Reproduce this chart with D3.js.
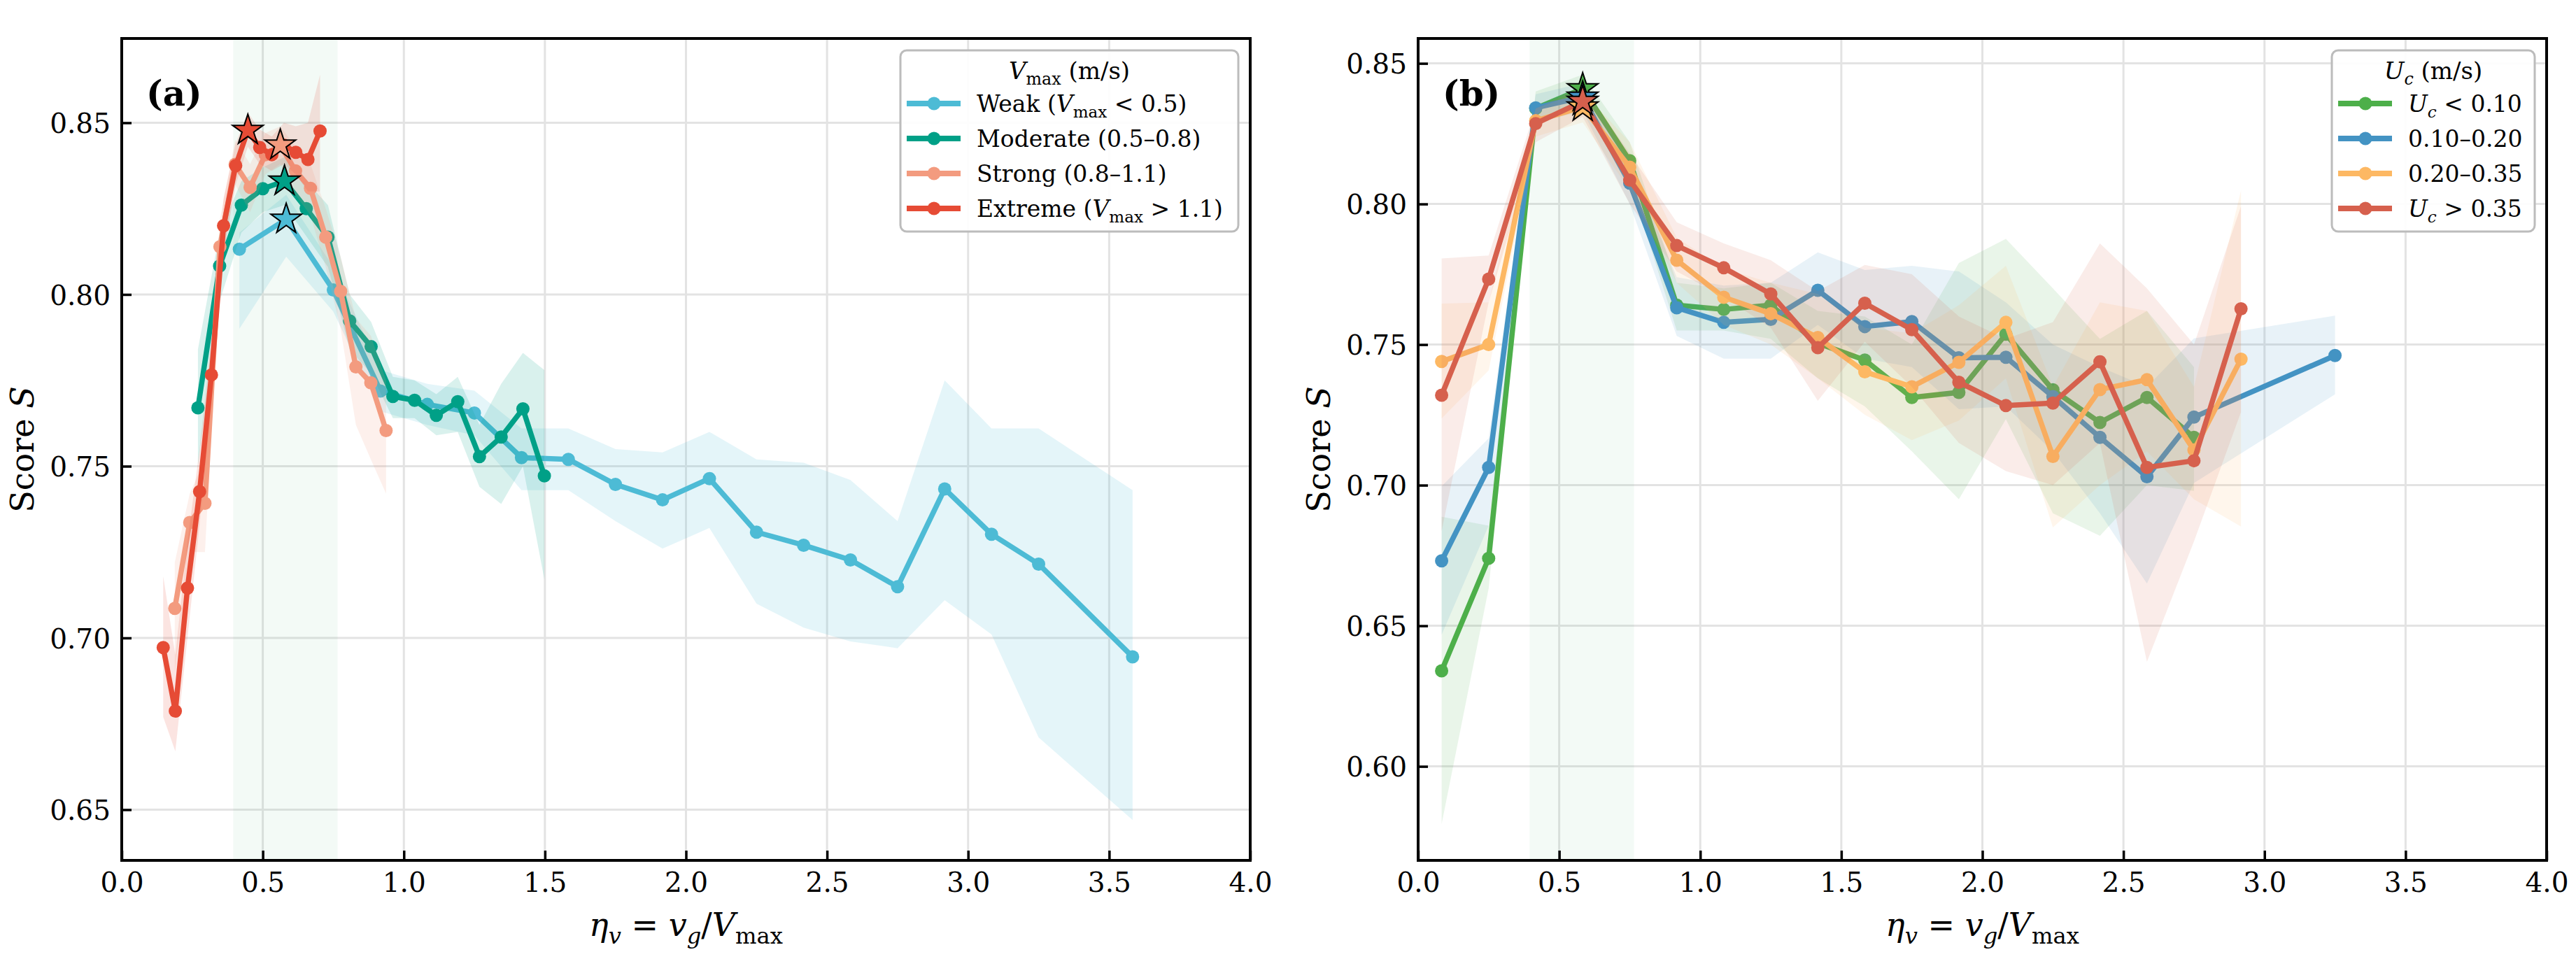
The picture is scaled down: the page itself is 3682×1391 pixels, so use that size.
<!DOCTYPE html>
<html><head><meta charset="utf-8">
<script src="https://cdn.jsdelivr.net/npm/d3@7"></script>
<style>body{margin:0;background:#fff}svg{display:block}text{font-family:"DejaVu Serif",serif;white-space:pre}</style>
</head><body><svg id="chart" width="3682" height="1391"></svg>
<script>
// ---------- tick labels ----------
const xTicks = [0, 0.5, 1.0, 1.5, 2.0, 2.5, 3.0, 3.5, 4.0];
const aYTicks = [0.65, 0.70, 0.75, 0.80, 0.85];
const bYTicks = [0.60, 0.65, 0.70, 0.75, 0.80, 0.85];
const optBand = [0.395, 0.765];

// ---------- panel (a): V_max categories ----------
const aCategories = ["Weak", "Moderate", "Strong", "Extreme"];
const aColors = ["#4DBBD5", "#00A087", "#F39B7F", "#E64B35"];

const weakX = [0.417,0.583,0.750,0.917,1.083,1.250,1.417,1.583,1.750,1.917,2.083,2.250,2.417,2.583,2.750,2.917,3.083,3.250,3.583];
const weakY = [0.8132,0.8219,0.8013,0.7719,0.7680,0.7655,0.7525,0.7520,0.7447,0.7402,0.7464,0.7308,0.7270,0.7227,0.7149,0.7434,0.7302,0.7215,0.6945];
const weakLo = [0.790,0.811,0.795,0.766,0.762,0.759,0.743,0.743,0.734,0.726,0.732,0.710,0.703,0.699,0.697,0.711,0.701,0.671,0.647];
const weakHi = [0.818,0.829,0.808,0.778,0.774,0.772,0.761,0.761,0.755,0.754,0.760,0.752,0.751,0.746,0.734,0.775,0.761,0.761,0.743];

const moderateX = [0.270,0.347,0.424,0.500,0.577,0.654,0.731,0.808,0.884,0.961,1.038,1.115,1.191,1.268,1.345,1.422,1.498];
const moderateY = [0.767,0.8083,0.826,0.8308,0.833,0.825,0.8167,0.7923,0.7848,0.7703,0.7692,0.7648,0.7688,0.7528,0.7585,0.7667,0.7472];
const moderateLo = [0.750,0.798,0.818,0.824,0.826,0.817,0.808,0.784,0.777,0.764,0.764,0.759,0.760,0.744,0.739,0.750,0.717];
const moderateHi = [0.784,0.818,0.833,0.837,0.840,0.833,0.826,0.800,0.792,0.776,0.775,0.771,0.776,0.762,0.774,0.783,0.778];

const strongX = [0.188,0.241,0.295,0.348,0.402,0.455,0.509,0.562,0.616,0.669,0.723,0.776,0.830,0.883,0.937];
const strongY = [0.7086,0.7336,0.7392,0.8139,0.8379,0.8312,0.8407,0.8435,0.8360,0.8309,0.8167,0.8009,0.7789,0.7743,0.7604];
const strongLo = [0.690,0.725,0.725,0.806,0.832,0.824,0.835,0.838,0.829,0.823,0.808,0.790,0.762,0.752,0.742];
const strongHi = [0.722,0.742,0.752,0.822,0.845,0.838,0.847,0.849,0.843,0.838,0.825,0.811,0.793,0.788,0.775];

const extremeX = [0.147,0.190,0.233,0.276,0.318,0.361,0.404,0.447,0.489,0.532,0.575,0.617,0.660,0.703];
const extremeY = [0.6972,0.6787,0.7145,0.7426,0.7766,0.8200,0.8375,0.8478,0.8428,0.8407,0.8435,0.8414,0.8393,0.8476];
const extremeLo = [0.677,0.667,0.700,0.733,0.768,0.812,0.832,0.843,0.838,0.836,0.838,0.835,0.830,0.830];
const extremeHi = [0.718,0.695,0.728,0.755,0.787,0.828,0.844,0.853,0.848,0.846,0.850,0.849,0.850,0.864];

const aPeakX = [0.583, 0.577, 0.562, 0.447];
const aPeakY = [0.8219, 0.833, 0.8435, 0.8478];

// ---------- panel (b): U_c categories ----------
const bCategories = ["Uc<0.10", "0.10-0.20", "0.20-0.35", "Uc>0.35"];
const bColors = ["#4daf4a", "#4393c3", "#fdb863", "#d6604d"];

const lowX = [0.0833,0.25,0.4167,0.5833,0.75,0.9167,1.0833,1.25,1.4167,1.5833,1.75,1.9167,2.0833,2.25,2.4167,2.5833,2.75];
const lowY = [0.634,0.674,0.834,0.841,0.8154,0.764,0.7625,0.764,0.7505,0.7445,0.7312,0.733,0.7537,0.7339,0.7223,0.7312,0.717];
const lowLo = [0.5795,0.6633,0.828,0.836,0.808,0.755,0.755,0.752,0.738,0.728,0.712,0.695,0.7235,0.690,0.682,0.700,0.698];
const lowHi = [0.6888,0.6856,0.840,0.846,0.822,0.772,0.770,0.772,0.762,0.760,0.750,0.779,0.7876,0.770,0.752,0.762,0.742];

const midX = [0.0833,0.25,0.4167,0.5833,0.75,0.9167,1.0833,1.25,1.4167,1.5833,1.75,1.9167,2.0833,2.25,2.4167,2.5833,2.75,3.25];
const midY = [0.6731,0.7063,0.8342,0.838,0.8074,0.7631,0.7579,0.759,0.7693,0.7564,0.7582,0.7453,0.7455,0.7315,0.717,0.703,0.7242,0.7461];
const midLo = [0.6468,0.6856,0.829,0.833,0.800,0.7531,0.745,0.745,0.757,0.745,0.742,0.727,0.728,0.712,0.690,0.665,0.7008,0.7323];
const midHi = [0.6996,0.7167,0.839,0.843,0.815,0.774,0.771,0.772,0.7828,0.7765,0.778,0.776,0.765,0.750,0.742,0.735,0.7522,0.7603];

const highX = [0.0833,0.25,0.4167,0.5833,0.75,0.9167,1.0833,1.25,1.4167,1.5833,1.75,1.9167,2.0833,2.25,2.4167,2.5833,2.75,2.9167];
const highY = [0.744,0.750,0.8296,0.8345,0.8131,0.780,0.7668,0.761,0.7525,0.7403,0.735,0.7437,0.7579,0.7102,0.734,0.7375,0.7125,0.7448];
const highLo = [0.7237,0.7408,0.824,0.829,0.805,0.772,0.757,0.750,0.738,0.725,0.716,0.723,0.738,0.685,0.700,0.712,0.695,0.6853];
const highHi = [0.7646,0.765,0.834,0.840,0.822,0.788,0.777,0.772,0.768,0.756,0.754,0.764,0.778,0.735,0.765,0.762,0.735,0.8048];

const vhighX = [0.0833,0.25,0.4167,0.5833,0.75,0.9167,1.0833,1.25,1.4167,1.5833,1.75,1.9167,2.0833,2.25,2.4167,2.5833,2.75,2.9167];
const vhighY = [0.732,0.7733,0.8286,0.8365,0.8085,0.7852,0.7773,0.768,0.7489,0.7647,0.7553,0.7366,0.7283,0.7292,0.7439,0.7063,0.7087,0.7627];
const vhighLo = [0.6837,0.765,0.822,0.831,0.800,0.776,0.767,0.756,0.730,0.751,0.735,0.715,0.705,0.700,0.715,0.6372,0.680,0.726];
const vhighHi = [0.7806,0.7817,0.834,0.842,0.818,0.7935,0.786,0.780,0.769,0.7783,0.775,0.760,0.752,0.758,0.786,0.770,0.750,0.7992];

const bPeakX = [0.5833, 0.5833, 0.5833, 0.5833];
const bPeakY = [0.841, 0.838, 0.8345, 0.8365];

// ---------- build ----------
const svg = d3.select("#chart");
svg.append("rect").attr("width", 3682).attr("height", 1391).attr("fill", "#fff");

function zipS(xs, ys, lo, hi) { return xs.map((x, i) => ({x, y: ys[i], lo: lo[i], hi: hi[i]})); }

// rich text: parts = [[text, style]] style: r, i, sr, si
function rich(sel, parts, size) {
  let shift = 0;
  parts.forEach(([t, s]) => {
    const sub = s[0] === "s";
    const it = s.endsWith("i");
    const target = sub ? size * 0.24 : 0;
    sel.append("tspan").text(t)
      .attr("font-style", it ? "italic" : "normal")
      .attr("font-size", sub ? size * 0.7 : size)
      .attr("dy", target - shift);
    shift = target;
  });
}

function starPath(R) {
  const r = R * 0.381966, pts = [];
  for (let k = 0; k < 10; k++) {
    const a = -Math.PI / 2 + k * Math.PI / 5;
    const rr = k % 2 === 0 ? R : r;
    pts.push([rr * Math.cos(a), rr * Math.sin(a)]);
  }
  return "M" + pts.map(p => p[0].toFixed(2) + "," + p[1].toFixed(2)).join("L") + "Z";
}

function drawPanel(cfg) {
  const g = svg.append("g");
  const x = d3.scaleLinear().domain([0, 4]).range([cfg.x0, cfg.x1]);
  const y = d3.scaleLinear().domain(cfg.yDomain).range([cfg.y1, cfg.y0]);
  const clipId = "clip" + cfg.id;
  svg.append("clipPath").attr("id", clipId).append("rect")
    .attr("x", cfg.x0).attr("y", cfg.y0).attr("width", cfg.x1 - cfg.x0).attr("height", cfg.y1 - cfg.y0);

  // grid
  const grid = g.append("g");
  xTicks.forEach(t => grid.append("line").attr("x1", x(t)).attr("x2", x(t)).attr("y1", cfg.y0).attr("y2", cfg.y1)
    .attr("stroke", "#e3e3e3").attr("stroke-width", 3));
  cfg.yTicks.forEach(t => grid.append("line").attr("x1", cfg.x0).attr("x2", cfg.x1).attr("y1", y(t)).attr("y2", y(t))
    .attr("stroke", "#e3e3e3").attr("stroke-width", 3));

  // optimal band
  g.append("rect").attr("x", x(optBand[0])).attr("width", x(optBand[1]) - x(optBand[0]))
    .attr("y", cfg.y0).attr("height", cfg.y1 - cfg.y0).attr("fill", "#2ca25f").attr("opacity", 0.06);

  const plot = g.append("g").attr("clip-path", `url(#${clipId})`);
  const area = d3.area().x(d => x(d.x)).y0(d => y(d.lo)).y1(d => y(d.hi));
  const line = d3.line().x(d => x(d.x)).y(d => y(d.y));
  cfg.series.forEach((s, si) => {
    plot.append("path").datum(s).attr("d", area).attr("fill", cfg.colors[si]).attr("opacity", cfg.bandAlpha);
    plot.append("path").datum(s).attr("d", line).attr("fill", "none").attr("stroke", cfg.colors[si])
      .attr("stroke-width", 7.5).attr("stroke-linejoin", "round");
    plot.selectAll(null).data(s).enter().append("circle")
      .attr("cx", d => x(d.x)).attr("cy", d => y(d.y)).attr("r", 9.5).attr("fill", cfg.colors[si]);
  });
  cfg.peakX.forEach((px, i) => {
    plot.append("path").attr("d", starPath(23)).attr("transform", `translate(${x(px)},${y(cfg.peakY[i])})`)
      .attr("fill", cfg.colors[i]).attr("stroke", "#000").attr("stroke-width", 2).attr("stroke-linejoin", "miter");
  });

  // axes
  const xa = g.append("g").attr("transform", `translate(0,${cfg.y1})`)
    .call(d3.axisBottom(x).tickValues(xTicks).tickFormat(d3.format(".1f")).tickSizeInner(-14).tickSizeOuter(0));
  xa.select(".domain").remove();
  xa.selectAll(".tick line").attr("stroke", "#000").attr("stroke-width", 3.5);
  xa.selectAll(".tick text").attr("y", 45).attr("dy", 0).attr("font-size", 39).attr("fill", "#000")
    .attr("font-family", "DejaVu Serif");

  const ya = g.append("g").attr("transform", `translate(${cfg.x0},0)`)
    .call(d3.axisLeft(y).tickValues(cfg.yTicks).tickFormat(d3.format(".2f")).tickSizeInner(-14).tickSizeOuter(0));
  ya.select(".domain").remove();
  ya.selectAll(".tick line").attr("stroke", "#000").attr("stroke-width", 3.5);
  ya.selectAll(".tick text").attr("x", -16).attr("dy", "0.36em").attr("font-size", 39).attr("fill", "#000")
    .attr("font-family", "DejaVu Serif");

  // spines
  g.append("rect").attr("x", cfg.x0).attr("y", cfg.y0).attr("width", cfg.x1 - cfg.x0).attr("height", cfg.y1 - cfg.y0)
    .attr("fill", "none").attr("stroke", "#000").attr("stroke-width", 4);

  // axis labels
  const xl = g.append("text").attr("x", (cfg.x0 + cfg.x1) / 2).attr("y", 1338).attr("text-anchor", "middle").attr("font-size", 46);
  rich(xl, [["η", "i"], ["v", "si"], [" = ", "r"], ["v", "i"], ["g", "si"], ["/", "r"], ["V", "i"], ["max", "sr"]], 46);
  const yl = g.append("text").attr("transform", `translate(${cfg.x0 - 126},${(cfg.y0 + cfg.y1) / 2}) rotate(-90)`)
    .attr("text-anchor", "middle").attr("font-size", 46);
  rich(yl, [["Score ", "r"], ["S", "i"]], 46);

  // panel label
  g.append("text").attr("x", cfg.x0 + 35).attr("y", 151).attr("font-size", 50).attr("font-weight", "bold").text(cfg.label);

  // legend
  const L = cfg.legend;
  const lg = g.append("g");
  lg.append("rect").attr("x", L.x).attr("y", 72).attr("width", L.w).attr("height", 259).attr("rx", 9)
    .attr("fill", "#fff").attr("fill-opacity", 0.9).attr("stroke", "#bcbcbc").attr("stroke-width", 3);
  const tt = lg.append("text").attr("x", L.x + L.w / 2).attr("y", 113).attr("text-anchor", "middle").attr("font-size", 34);
  rich(tt, L.title, 34);
  L.items.forEach((parts, i) => {
    const cy = 148 + i * 50;
    lg.append("line").attr("x1", L.x + 9).attr("x2", L.x + 86).attr("y1", cy).attr("y2", cy)
      .attr("stroke", cfg.colors[i]).attr("stroke-width", 8);
    lg.append("circle").attr("cx", L.x + 48).attr("cy", cy).attr("r", 9.5).attr("fill", cfg.colors[i]);
    const t = lg.append("text").attr("x", L.x + 109).attr("y", cy + 12).attr("font-size", 33);
    rich(t, parts, 33);
  });
}

drawPanel({
  id: "a", x0: 174, x1: 1787, y0: 55, y1: 1230, yDomain: [0.63523, 0.87454], yTicks: aYTicks,
  colors: aColors, bandAlpha: 0.15, label: "(a)",
  series: [zipS(weakX, weakY, weakLo, weakHi), zipS(moderateX, moderateY, moderateLo, moderateHi),
           zipS(strongX, strongY, strongLo, strongHi), zipS(extremeX, extremeY, extremeLo, extremeHi)],
  peakX: aPeakX, peakY: aPeakY,
  legend: {
    x: 1287, w: 483,
    title: [["V", "i"], ["max", "sr"], [" (m/s)", "r"]],
    items: [
      [["Weak (", "r"], ["V", "i"], ["max", "sr"], [" < 0.5)", "r"]],
      [["Moderate (0.5–0.8)", "r"]],
      [["Strong (0.8–1.1)", "r"]],
      [["Extreme (", "r"], ["V", "i"], ["max", "sr"], [" > 1.1)", "r"]]
    ]
  }
});

drawPanel({
  id: "b", x0: 2027, x1: 3640, y0: 55, y1: 1230, yDomain: [0.56657, 0.85886], yTicks: bYTicks,
  colors: bColors, bandAlpha: 0.12, label: "(b)",
  series: [zipS(lowX, lowY, lowLo, lowHi), zipS(midX, midY, midLo, midHi),
           zipS(highX, highY, highLo, highHi), zipS(vhighX, vhighY, vhighLo, vhighHi)],
  peakX: bPeakX, peakY: bPeakY,
  legend: {
    x: 3333, w: 290,
    title: [["U", "i"], ["c", "si"], [" (m/s)", "r"]],
    items: [
      [["U", "i"], ["c", "si"], [" < 0.10", "r"]],
      [["0.10–0.20", "r"]],
      [["0.20–0.35", "r"]],
      [["U", "i"], ["c", "si"], [" > 0.35", "r"]]
    ]
  }
});
</script></body></html>
